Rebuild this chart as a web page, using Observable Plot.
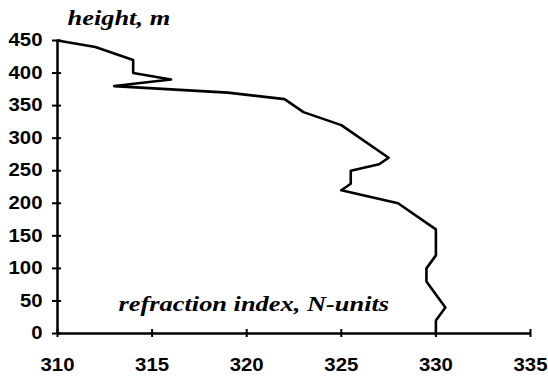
<!DOCTYPE html>
<html><head><meta charset="utf-8">
<script src="https://cdn.jsdelivr.net/npm/d3@7"></script>
<script src="https://cdn.jsdelivr.net/npm/@observablehq/plot@0.6"></script>
<style>body{margin:0;background:#fff} svg{display:block}</style>
</head><body><div id="chart"></div>
<script>
const heights = [0, 20, 40, 80, 100, 120, 160, 200, 220, 230, 250, 260, 270, 320, 340, 360, 370, 380, 390, 400, 420, 440, 450];
const nUnits  = [330, 330, 330.5, 329.5, 329.5, 330, 330, 328, 325, 325.5, 325.5, 327, 327.5, 325, 323, 322, 319, 313, 316, 314, 314, 312, 310];
const xTicks = [310, 315, 320, 325, 330, 335];
const yTicks = [0, 50, 100, 150, 200, 250, 300, 350, 400, 450];
const xLabel = "refraction index, N-units";
const yLabel = "height, m";

const data = heights.map((h, i) => ({h, n: nUnits[i]}));
const serif = "'Liberation Serif', 'Times New Roman', serif";

const chart = Plot.plot({
  width: 548, height: 376,
  marginLeft: 57, marginRight: 18, marginTop: 40, marginBottom: 43,
  style: {fontFamily: "'Liberation Sans', Arial, sans-serif", fontWeight: "bold", fontSize: "18px", color: "#000", background: "#fff"},
  x: {domain: [310, 335], label: null},
  y: {domain: [0, 450], label: null},
  marks: [
    Plot.axisX(xTicks, {tickSize: 0, tickPadding: 25, fontSize: 18, fontWeight: "bold"}),
    Plot.axisY(yTicks, {tickSize: 0, tickPadding: 15, fontSize: 18, fontWeight: "bold"}),
    Plot.ruleX(xTicks, {x: d => d, y1: 0, y2: 0, insetTop: -4, insetBottom: -4, strokeWidth: 2, stroke: "#000"}),
    Plot.ruleY(yTicks, {y: d => d, x1: 310, x2: 310, insetLeft: -5, insetRight: -4, strokeWidth: 2, stroke: "#000"}),
    Plot.ruleY([0], {stroke: "#000", strokeWidth: 2.5}),
    Plot.ruleX([310], {stroke: "#000", strokeWidth: 2.5}),
    Plot.line(data, {x: "n", y: "h", stroke: "#000", strokeWidth: 2.6, curve: "linear"}),
    Plot.text([yLabel], {frameAnchor: "top-left", dx: 10, dy: -16, textAnchor: "start", lineAnchor: "bottom", fontFamily: serif, fontStyle: "italic", fontWeight: "bold", fontSize: 22, fill: "#000"}),
    Plot.text([xLabel], {frameAnchor: "bottom-left", dx: 61, dy: -23, textAnchor: "start", lineAnchor: "bottom", fontFamily: serif, fontStyle: "italic", fontWeight: "bold", fontSize: 22, fill: "#000"})
  ]
});
document.getElementById("chart").appendChild(chart);

// the reference's lettering is horizontally widened; reproduce that
d3.select(chart).selectAll("g[aria-label] text").each(function () {
  const label = this.parentNode.getAttribute("aria-label") || "";
  const k = label.includes("tick label") ? 1.13 : 1.2;
  const w = this.getComputedTextLength();
  this.setAttribute("textLength", (w * k).toFixed(1));
  this.setAttribute("lengthAdjust", "spacingAndGlyphs");
});
</script>
</body></html>
